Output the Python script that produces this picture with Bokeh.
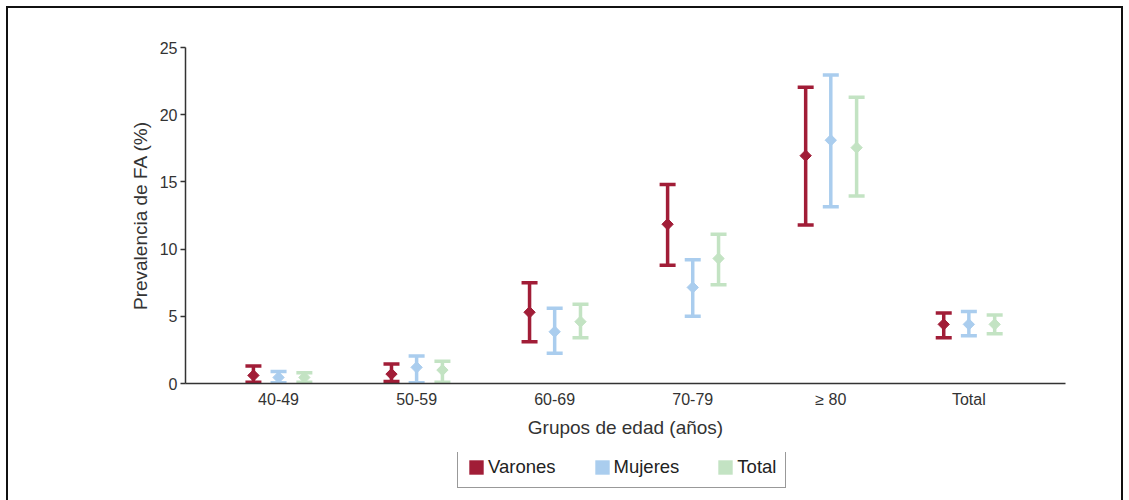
import numpy as np
from bokeh.plotting import figure
from bokeh.layouts import column
from bokeh.models import Range1d, FixedTicker, Legend, LegendItem
from bokeh.embed import file_html
from bokeh.resources import INLINE

# ---- data ----
groups = ["40-49", "50-59", "60-69", "70-79", "≥ 80", "Total"]

varones_est = [0.6, 0.7, 5.3, 11.85, 16.95, 4.4]
varones_lo = [0.1, 0.15, 3.1, 8.8, 11.8, 3.4]
varones_hi = [1.3, 1.45, 7.5, 14.8, 22.05, 5.25]

mujeres_est = [0.45, 1.2, 3.85, 7.15, 18.1, 4.4]
mujeres_lo = [0.05, 0.05, 2.25, 5.0, 13.15, 3.55]
mujeres_hi = [0.9, 2.05, 5.6, 9.2, 22.95, 5.35]

total_est = [0.45, 1.0, 4.6, 9.3, 17.55, 4.4]
total_lo = [0.1, 0.1, 3.4, 7.35, 13.95, 3.7]
total_hi = [0.8, 1.65, 5.9, 11.1, 21.3, 5.1]

series_names = ["Varones", "Mujeres", "Total"]
colors = ["#A11D37", "#AACDEE", "#C3E3C3"]

FONT = "Liberation Sans"
TEXT = "#333333"

p = figure(width=1113, height=444, output_backend="svg", toolbar_location=None,
           x_range=Range1d(-0.674, 5.70), y_range=Range1d(0, 25),
           min_border_left=177, min_border_right=56, min_border_top=39,
           min_border_bottom=69)
p.xgrid.visible = False
p.ygrid.visible = False
p.outline_line_color = None

# legend strip below the chart
p2 = figure(width=1113, height=48, output_backend="svg", toolbar_location=None,
            x_range=Range1d(0, 1), y_range=Range1d(0, 1),
            x_axis_type=None, y_axis_type=None, min_border=0)
p2.xgrid.visible = False
p2.ygrid.visible = False
p2.outline_line_color = None

offsets = [-0.182, 0.0, 0.187]
series = [(varones_est, varones_lo, varones_hi),
          (mujeres_est, mujeres_lo, mujeres_hi),
          (total_est, total_lo, total_hi)]

items = []
for (est, lo, hi), name, color, off in zip(series, series_names, colors, offsets):
    x = np.arange(len(groups)) + off
    p.segment(x0=x, y0=lo, x1=x, y1=hi, line_color=color, line_width=3.5)
    p.scatter(x=x, y=hi, marker="dash", size=16, line_color=color, line_width=3.5)
    p.scatter(x=x, y=lo, marker="dash", size=16, line_color=color, line_width=3.5)
    p.scatter(x=x, y=est, marker="square", angle=np.pi / 4, size=8,
              fill_color=color, line_color=color)
    # legend swatch (hidden renderer, only its legend glyph is drawn)
    proxy = p2.quad(left=x, right=x, top=est, bottom=est, fill_color=color,
                    line_color=None, visible=False)
    items.append(LegendItem(label=name, renderers=[proxy]))

# y axis
ya = p.yaxis[0]
ya.ticker = FixedTicker(ticks=[0, 5, 10, 15, 20, 25])
ya.major_tick_in = 0
ya.major_tick_out = 5
ya.minor_tick_line_color = None
ya.axis_line_color = TEXT
ya.axis_line_width = 1.5
ya.major_tick_line_color = TEXT
ya.major_tick_line_width = 1.5
ya.major_label_text_font = FONT
ya.major_label_text_font_size = "16px"
ya.major_label_text_color = TEXT
ya.major_label_standoff = 3
ya.axis_label = "Prevalencia de FA (%)"
ya.axis_label_text_font = FONT
ya.axis_label_text_font_size = "19px"
ya.axis_label_text_font_style = "normal"
ya.axis_label_text_color = TEXT
ya.axis_label_standoff = 6

# x axis
xa = p.xaxis[0]
xa.ticker = FixedTicker(ticks=list(range(len(groups))))
xa.major_label_overrides = {i: g for i, g in enumerate(groups)}
xa.major_tick_line_color = None
xa.major_tick_in = 0
xa.major_tick_out = 0
xa.minor_tick_line_color = None
xa.axis_line_color = TEXT
xa.axis_line_width = 1.5
xa.major_label_text_font = FONT
xa.major_label_text_font_size = "16px"
xa.major_label_text_color = TEXT
xa.major_label_standoff = 7
xa.axis_label = "Grupos de edad (años)"
xa.axis_label_text_font = FONT
xa.axis_label_text_font_size = "19px"
xa.axis_label_text_font_style = "normal"
xa.axis_label_text_color = TEXT
xa.axis_label_standoff = 6

legend = Legend(items=items, orientation="horizontal", location=(272, 12),
                glyph_width=18, glyph_height=18, label_standoff=3,
                spacing=37, padding=9,
                label_text_font=FONT, label_text_font_size="18.5px",
                label_text_color="#222222",
                border_line_color="#333333", border_line_width=1.5,
                background_fill_color="white", background_fill_alpha=1.0)
p2.add_layout(legend, "center")

layout = column(p, p2, margin=(8, 0, 0, 8), spacing=0,
                styles={"outline": "2px solid #111111"})

open("out.html", "w").write(file_html(layout, INLINE))
